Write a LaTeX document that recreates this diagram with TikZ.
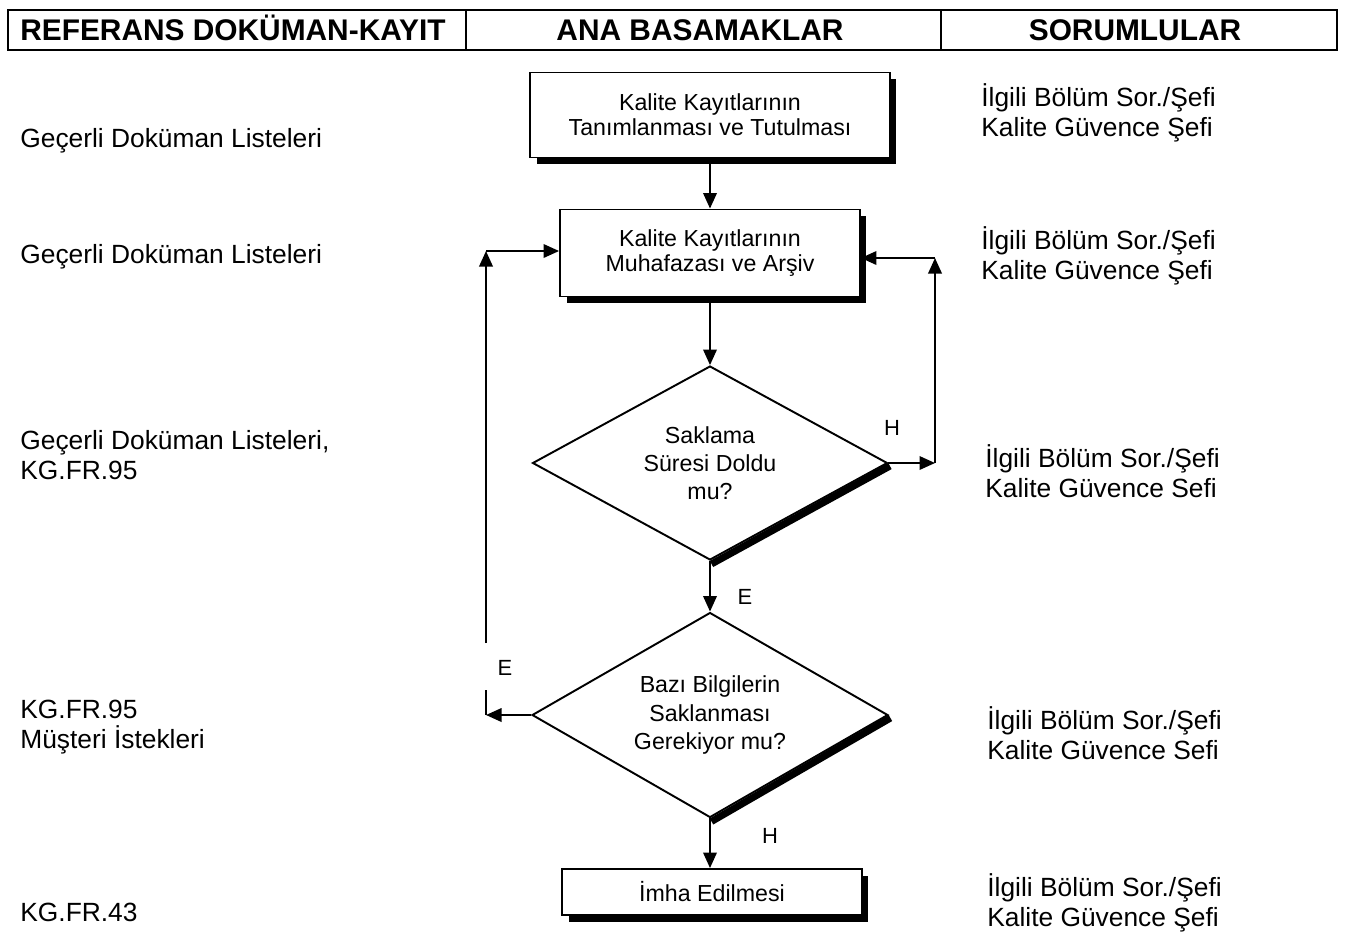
\documentclass[tikz,border=0pt]{standalone}
\usepackage{fontspec}
\setmainfont{Liberation Sans}
\usetikzlibrary{arrows.meta,shapes.geometric,shadows,calc}
\tikzset{
  flow/.style={
    line width=1.1pt,
    line cap=butt,
    line join=miter
  },
  arr/.style={
    flow,
    -{Triangle[length=0.31cm,width=0.27cm]}
  },
  stepbox/.style={
    rectangle,
    draw=black,
    line width=1.1pt,
    fill=white,
    align=center,
    inner sep=0pt,
    font=\fontsize{13.2}{14.4}\selectfont,
    drop shadow={shadow xshift=0.13cm, shadow yshift=-0.13cm, opacity=1, fill=black}
  },
  decision/.style={
    diamond,
    aspect=1.83,
    draw=black,
    line width=1.1pt,
    fill=white,
    align=center,
    inner sep=0pt,
    font=\fontsize{13.2}{16}\selectfont
  },
  dec-shadow/.style={line width=4pt, line cap=butt},
  coltext/.style={anchor=west, align=left, inner sep=0pt, font=\fontsize{15}{17}\selectfont},
  hdrtext/.style={anchor=base, inner sep=0pt, font=\fontsize{17}{19}\selectfont\bfseries},
  yesno/.style={inner sep=0pt, font=\fontsize{12.5}{14}\selectfont}
}

\begin{document}
\begin{tikzpicture}[x=0.02cm, y=-0.02cm]
  \useasboundingbox (0,0) rectangle (1345,931);
  % Header
  \draw[line width=1.6pt] (8,10) rectangle (1337,50);
  \draw[line width=0.6pt] (466,10) -- (466,50);
  \draw[line width=0.6pt] (941,10) -- (941,50);
  \node[hdrtext] (hdrRef)  at (233,40)  {REFERANS DOKÜMAN-KAYIT};
  \node[hdrtext] (hdrStep) at (700,40)  {ANA BASAMAKLAR};
  \node[hdrtext] (hdrResp) at (1135,40) {SORUMLULAR};

  % Main steps
  \node[stepbox, minimum width=7.2cm, minimum height=1.7cm] (recKeep) at (710,115)
    {Kalite Kayıtlarının\\Tanımlanması ve Tutulması};
  \node[stepbox, minimum width=6cm, minimum height=1.74cm] (recArch) at (710,253)
    {Kalite Kayıtlarının\\Muhafazası ve Arşiv};
  \node[decision, minimum width=7.1cm, minimum height=3.88cm] (askTime) at (710,463)
    {Saklama\\Süresi Doldu\\mu?};
  \node[decision, minimum width=7.12cm, minimum height=4.1cm] (askKeep) at (710,715)
    {Bazı Bilgilerin\\Saklanması\\Gerekiyor mu?};
  \node[stepbox, minimum width=6cm, minimum height=0.92cm] (dispose) at (712,892)
    {İmha Edilmesi};

  % Diamond shadows
  \draw[dec-shadow] ([shift={(1.5,3)}]askTime.east) -- ([shift={(1.5,3)}]askTime.south);
  \draw[dec-shadow] ([shift={(1.5,3)}]askKeep.east) -- ([shift={(1.5,3)}]askKeep.south);

  % Loop corners
  \coordinate (rgtLow) at (935,463);
  \coordinate (rgtTop) at (935,258);
  \coordinate (lftLow) at (486,715);
  \coordinate (lftGapLow) at (486,690);
  \coordinate (lftGapTop) at (486,643);
  \coordinate (lftTop) at (486,251);

  % Connectors
  \draw[arr] (recKeep) -- (recArch);
  \draw[arr] (recArch) -- (askTime);
  \draw[arr] (askTime) -- (askKeep);
  \draw[arr] (askKeep.south) -- (dispose.north -| askKeep.south);
  \draw[arr] (askTime.east) -- (rgtLow);
  \draw[arr] (rgtLow) -- (rgtTop);
  \draw[arr] (rgtTop) -- (rgtTop -| recArch.east);
  \draw[arr] (askKeep.west) -- (lftLow);
  \draw[flow] (lftLow) -- (lftGapLow);
  \draw[arr] (lftGapTop) -- (lftTop);
  \draw[arr] (lftTop) -- (lftTop -| recArch.west);

  % Yes / no labels
  \node[yesno] (noTime)  at (892,428) {H};
  \node[yesno] (yesTime) at (745,597) {E};
  \node[yesno] (yesKeep) at (505,668) {E};
  \node[yesno] (noKeep)  at (770,836) {H};

  % References
  \node[coltext] (ref1) at (20,141) {Geçerli Doküman Listeleri};
  \node[coltext] (ref2) at (20,257) {Geçerli Doküman Listeleri};
  \node[coltext] (ref3) at (20,455) {Geçerli Doküman Listeleri,\\KG.FR.95};
  \node[coltext] (ref4) at (20,727) {KG.FR.95\\Müşteri İstekleri};
  \node[coltext] (ref5) at (20,912) {KG.FR.43};

  % Responsibles
  \node[coltext] (resp1) at (981,113) {İlgili Bölüm Sor./Şefi\\Kalite Güvence Şefi};
  \node[coltext] (resp2) at (981,256) {İlgili Bölüm Sor./Şefi\\Kalite Güvence Şefi};
  \node[coltext] (resp3) at (985,471) {İlgili Bölüm Sor./Şefi\\Kalite Güvence Sefi};
  \node[coltext] (resp4) at (987,733) {İlgili Bölüm Sor./Şefi\\Kalite Güvence Sefi};
  \node[coltext] (resp5) at (987,903) {İlgili Bölüm Sor./Şefi\\Kalite Güvence Şefi};
\end{tikzpicture}
\end{document}
